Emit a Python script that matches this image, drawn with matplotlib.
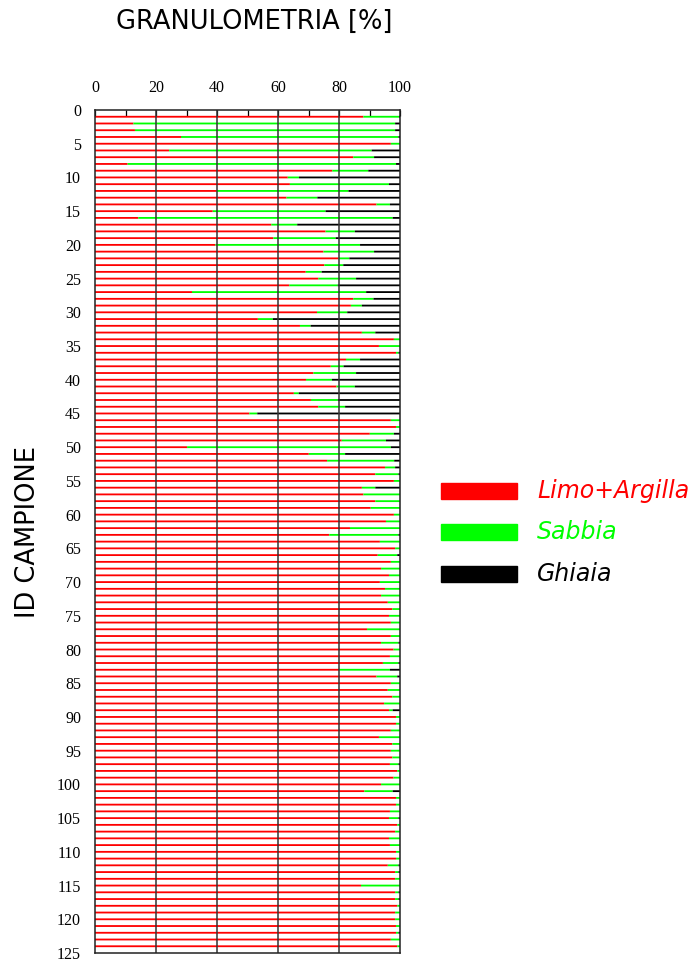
import numpy as np
import matplotlib.pyplot as plt
from matplotlib.patches import Rectangle

# Sample IDs and grain-size fractions [%]
ids = list(range(1, 125))

limo_argilla = [
    88.0, 12.6, 13.1, 28.2, 97.0, 24.3, 84.7, 10.7, 77.8, 63.2,
    63.9, 39.9, 62.8, 92.3, 38.6, 14.2, 57.8, 75.6, 58.5, 39.5,
    74.9, 79.8, 75.2, 69.1, 73.2, 63.7, 31.8, 84.7, 83.9, 72.8,
    53.4, 67.2, 87.5, 98.0, 93.1, 98.7, 82.3, 77.3, 71.6, 69.2,
    79.2, 65.2, 70.8, 73.2, 50.6, 97.0, 98.7, 90.1, 80.9, 30.2,
    70.1, 76.1, 95.1, 91.9, 98.0, 87.5, 88.0, 91.9, 90.4, 98.0,
    95.4, 83.6, 76.8, 93.4, 98.4, 92.7, 97.0, 93.8, 96.4, 93.4,
    95.1, 93.8, 96.0, 97.5, 96.4, 97.0, 89.2, 97.0, 93.8, 97.9,
    96.7, 94.4, 80.1, 92.3, 97.0, 96.0, 97.5, 94.8, 96.4, 98.7,
    98.7, 97.0, 93.1, 97.5, 97.0, 97.5, 96.7, 99.1, 97.9, 93.8,
    88.3, 98.7, 98.7, 96.7, 96.4, 99.1, 98.4, 96.4, 96.7, 98.7,
    98.7, 96.0, 98.4, 98.4, 87.2, 98.4, 98.4, 99.1, 98.4, 98.4,
    98.7, 98.7, 97.0, 99.1,
]

sabbia = [
    11.7, 85.8, 85.3, 71.3, 3.0, 66.4, 6.8, 88.0, 11.8, 3.7,
    32.5, 43.2, 10.1, 4.4, 37.0, 83.4, 8.5, 9.6, 20.4, 47.4,
    16.6, 3.6, 6.2, 5.2, 12.4, 15.9, 57.1, 6.6, 3.6, 9.9,
    4.9, 3.5, 4.4, 2.0, 6.9, 0.8, 4.6, 4.2, 14.0, 8.5,
    6.0, 1.6, 8.8, 8.8, 2.6, 3.0, 1.3, 7.9, 14.5, 66.8,
    11.9, 22.0, 3.3, 7.6, 2.0, 4.4, 12.0, 8.1, 9.6, 2.0,
    4.6, 16.4, 22.7, 6.6, 1.6, 6.4, 3.0, 6.2, 3.6, 6.6,
    4.9, 6.2, 4.0, 2.5, 3.6, 3.0, 10.8, 3.0, 5.7, 2.1,
    3.3, 5.1, 16.6, 6.8, 3.0, 4.0, 2.5, 5.2, 1.2, 1.3,
    1.3, 3.0, 6.9, 2.5, 3.0, 2.5, 2.8, 0.9, 2.1, 6.2,
    9.3, 1.3, 1.3, 3.3, 3.1, 0.9, 1.6, 3.6, 3.3, 1.3,
    1.3, 3.5, 1.1, 1.6, 12.8, 1.1, 1.1, 0.9, 1.6, 1.6,
    1.3, 0.8, 3.0, 0.9,
]

ghiaia = [
    0.3, 1.6, 1.6, 0.5, 0.0, 9.3, 8.5, 1.3, 10.4, 33.1,
    3.6, 16.9, 27.1, 3.3, 24.4, 2.4, 33.7, 14.8, 21.1, 13.1,
    8.5, 16.6, 18.6, 25.7, 14.4, 20.4, 11.1, 8.7, 12.5, 17.3,
    41.7, 29.3, 8.1, 0.0, 0.0, 0.5, 13.1, 18.5, 14.4, 22.3,
    14.8, 33.2, 20.4, 18.0, 46.8, 0.0, 0.0, 2.0, 4.6, 3.0,
    18.0, 1.9, 1.6, 0.5, 0.0, 8.1, 0.0, 0.0, 0.0, 0.0,
    0.0, 0.0, 0.5, 0.0, 0.0, 0.9, 0.0, 0.0, 0.0, 0.0,
    0.0, 0.0, 0.0, 0.0, 0.0, 0.0, 0.0, 0.0, 0.5, 0.0,
    0.0, 0.5, 3.3, 0.9, 0.0, 0.0, 0.0, 0.0, 2.4, 0.0,
    0.0, 0.0, 0.0, 0.0, 0.0, 0.0, 0.5, 0.0, 0.0, 0.0,
    2.4, 0.0, 0.0, 0.0, 0.5, 0.0, 0.0, 0.0, 0.0, 0.0,
    0.0, 0.5, 0.5, 0.0, 0.0, 0.5, 0.5, 0.0, 0.0, 0.0,
    0.0, 0.5, 0.0, 0.0,
]

labels = ["Limo+Argilla", "Sabbia", "Ghiaia"]
colors = ["#ff0000", "#00ff00", "#000000"]

fig = plt.figure(figsize=(6.93, 9.61), dpi=100)
ax = fig.add_axes([95 / 693, 1 - 953 / 961, 305 / 693, 843 / 961])

y = np.array(ids)
la = np.array(limo_argilla)
sa = np.array(sabbia)
gh = np.array(ghiaia)
h = 0.27
ax.barh(y, la, height=h, color=colors[0], linewidth=0, zorder=2, snap=False)
ax.barh(y, sa, left=la, height=h, color=colors[1], linewidth=0, zorder=2, snap=False)
ax.barh(y, gh, left=la + sa, height=h, color=colors[2], linewidth=0, zorder=2, snap=False)

ax.set_xlim(0, 100)
ax.set_ylim(125, 0)
ax.xaxis.tick_top()
ax.set_xticks(range(0, 101, 20))
ax.set_xticks(range(10, 100, 20), minor=True)
ax.set_yticks(range(0, 126, 5))
ax.tick_params(axis="x", which="major", direction="in", length=4, width=0.9, pad=10)
ax.tick_params(axis="x", which="minor", direction="in", length=4, width=0.9)
ax.tick_params(axis="y", which="major", direction="in", length=0, pad=10)
for lab in ax.get_xticklabels() + ax.get_yticklabels():
    lab.set_fontfamily("Liberation Serif")
    lab.set_fontsize(11.5)

for gx in [20, 40, 60, 80]:
    ax.axvline(gx, color="#333333", linewidth=1.1, zorder=3)
for sp in ax.spines.values():
    sp.set_linewidth(1.1)
    sp.set_color("#222222")
    sp.set_zorder(4)

fig.text(254 / 693, 1 - 22 / 961, "GRANULOMETRIA [%]", ha="center", va="center",
         fontsize=18.5, family="DejaVu Sans")
fig.text(28 / 693, 1 - 532 / 961, "ID CAMPIONE", ha="center", va="center",
         rotation=90, fontsize=18.5, family="DejaVu Sans")

# legend
for i, (lab, col) in enumerate(zip(labels, colors)):
    yc = [491, 532, 574][i]
    fig.add_artist(Rectangle((441 / 693, 1 - (yc + 8) / 961), 76 / 693, 16 / 961,
                             transform=fig.transFigure, color=col))
    fig.text(537 / 693, 1 - yc / 961, lab, ha="left", va="center", color=col,
             fontsize=17, style="italic", family="DejaVu Sans")

fig.savefig("out.png", dpi=100)
